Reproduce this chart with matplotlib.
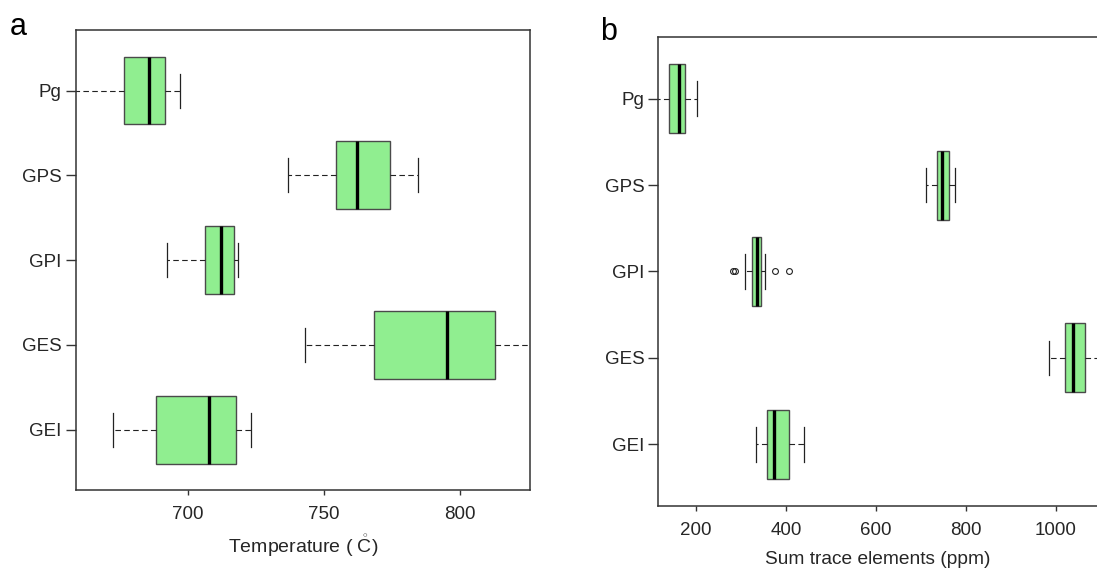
import matplotlib
matplotlib.use("Agg")
import matplotlib.pyplot as plt

plt.rcParams['font.family'] = ['Liberation Sans', 'DejaVu Sans']
plt.rcParams['mathtext.fontset'] = 'custom'
plt.rcParams['mathtext.rm'] = 'Liberation Sans'
plt.rcParams['mathtext.it'] = 'Liberation Sans'

groups = ["GEI", "GES", "GPI", "GPS", "Pg"]

# Panel a: temperature (°C)
t_whislo = [672.5, 743.0, 692.3, 736.8, 650.0]
t_q1 = [688.1, 768.5, 706.3, 754.4, 676.3]
t_med = [707.5, 795.4, 712.2, 762.2, 685.7]
t_q3 = [717.5, 813.0, 716.7, 774.3, 691.3]
t_whishi = [723.3, 835.0, 718.5, 784.8, 697.1]
t_fliers = [[], [], [], [], []]
t_xticks = [700, 750, 800]

# Panel b: sum trace elements (ppm)
s_whislo = [334.0, 985.0, 309.0, 710.0, 100.0]
s_q1 = [357.0, 1020.0, 325.0, 735.0, 139.0]
s_med = [374.0, 1038.5, 335.0, 747.0, 162.0]
s_q3 = [406.0, 1065.0, 344.0, 763.0, 176.0]
s_whishi = [439.0, 1100.0, 353.0, 775.0, 203.0]
s_fliers = [[], [], [281.0, 286.0, 376.0, 406.0], [], []]
s_xticks = [200, 400, 600, 800, 1000]

TXT = '#262626'
SP = '#333333'


def stats(lo, q1, med, q3, hi, fl):
    return [dict(whislo=a, q1=b, med=c, q3=d, whishi=e, fliers=f, label=g)
            for a, b, c, d, e, f, g in zip(lo, q1, med, q3, hi, fl, groups)]


def draw(ax, st):
    ax.bxp(st, positions=range(1, len(st) + 1), vert=False, widths=0.8,
           patch_artist=True, capwidths=0.4, manage_ticks=False,
           boxprops=dict(facecolor='#90EE90', edgecolor='#4a4a4a', linewidth=1.0),
           medianprops=dict(color='black', linewidth=2.4, solid_capstyle='butt'),
           whiskerprops=dict(color='#222222', linewidth=0.8, linestyle=(0, (5, 3))),
           capprops=dict(color='#222222', linewidth=0.9),
           flierprops=dict(marker='o', markersize=4.2, markerfacecolor='none',
                           markeredgecolor='#222222', markeredgewidth=0.8))
    ax.set_yticks(range(1, len(groups) + 1))
    ax.set_yticklabels(groups)
    ax.set_ylim(0.29, 5.71)
    ax.tick_params(axis='y', length=7, width=1, color=SP, labelsize=13.5,
                   labelcolor=TXT, pad=3)
    ax.tick_params(axis='x', length=3.5, width=1, color=SP, labelsize=13.5,
                   labelcolor=TXT, pad=8)
    for s in ax.spines.values():
        s.set_color(SP)
        s.set_linewidth(1.1)


fig = plt.figure(figsize=(10.97, 5.73), dpi=100)

ax1 = fig.add_axes([0.069, 0.145, 0.414, 0.802])
draw(ax1, stats(t_whislo, t_q1, t_med, t_q3, t_whishi, t_fliers))
ax1.set_xlim(658.6, 825.8)
ax1.set_xticks(t_xticks)
ax1.set_xlabel(r"Temperature ( $\mathring{\mathrm{C}}$)", fontsize=14, color=TXT, labelpad=7)

ax2 = fig.add_axes([0.6001, 0.1175, 0.3999, 0.8174])
draw(ax2, stats(s_whislo, s_q1, s_med, s_q3, s_whishi, s_fliers))
ax2.set_xlim(116, 1091)
ax2.set_xticks(s_xticks)
ax2.spines['right'].set_visible(False)
ax2.set_xlabel("Sum trace elements (ppm)", fontsize=13.8, color=TXT, labelpad=9)

fig.text(10 / 1097, 1 - 35 / 573, "a", fontsize=22, color='black', va='baseline')
fig.text(600 / 1097, 1 - 40 / 573, "b", fontsize=22, color='black', va='baseline')

fig.savefig("out.png", dpi=100)
